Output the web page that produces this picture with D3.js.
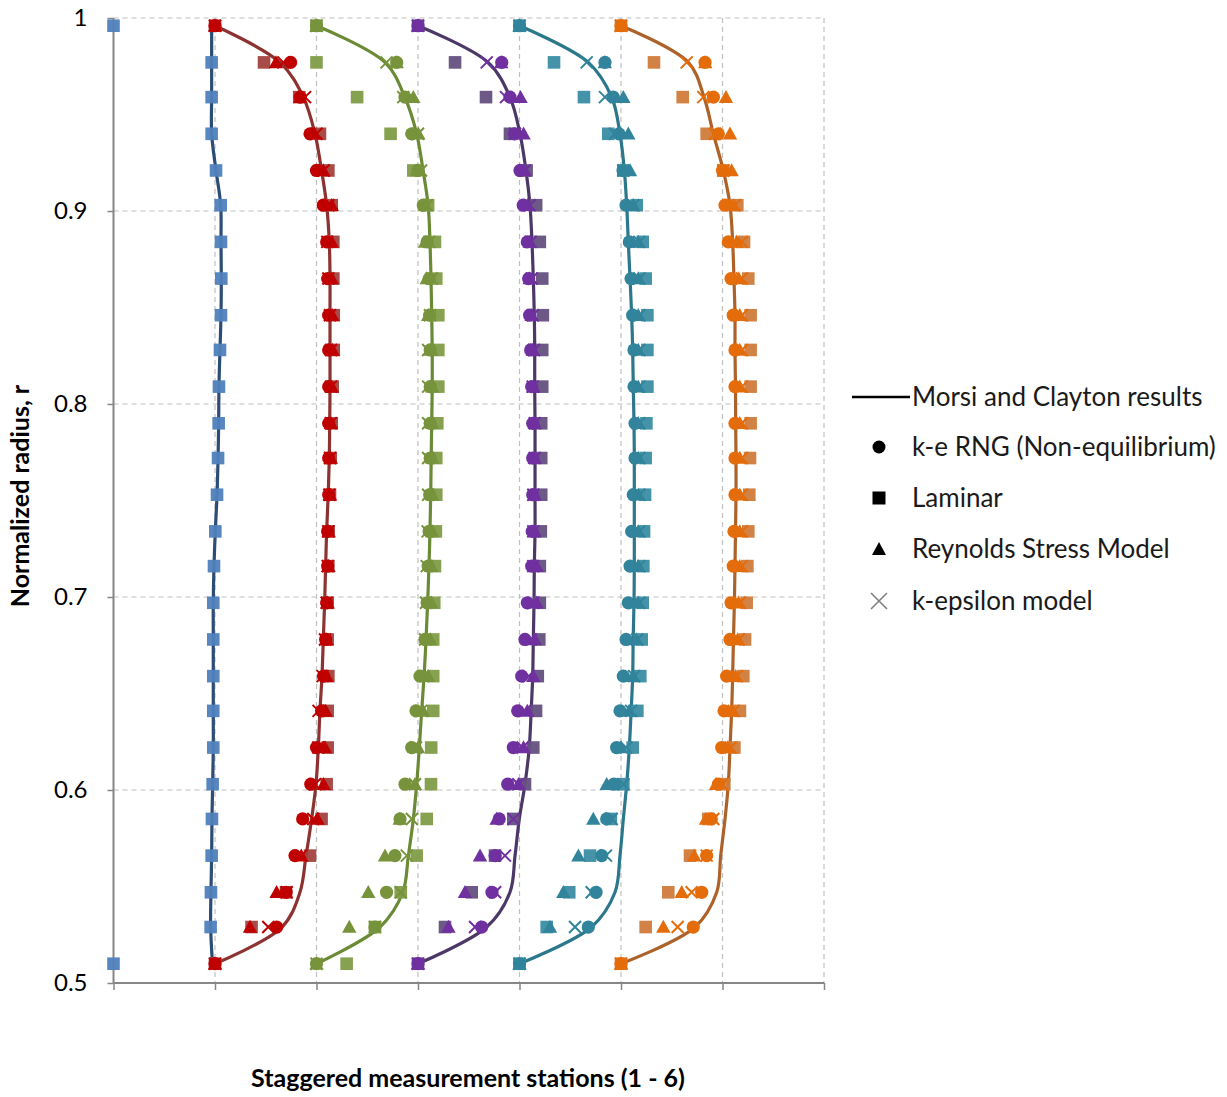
<!DOCTYPE html>
<html>
<head>
<meta charset="utf-8">
<script src="https://cdn.jsdelivr.net/npm/d3@7"></script>
<style>
  html, body { margin: 0; padding: 0; background: #fff; }
  svg { display: block; font-family: Lato, "Open Sans", sans-serif; }
</style>
</head>
<body>
<svg id="chart" width="1227" height="1097"></svg>
<script>
// Normalized radius of each sampled row (wall at 0.51 to wall at 0.996)
const radius = [0.510, 0.529, 0.547, 0.566, 0.585, 0.603, 0.622, 0.641, 0.659, 0.678, 0.697, 0.716, 0.734,
  0.753, 0.772, 0.790, 0.809, 0.828, 0.846, 0.865, 0.884, 0.903, 0.921, 0.940, 0.959, 0.977, 0.996];

// Each station is shifted one unit to the right of the previous one
const stationOffsets = [0, 1, 2, 3, 4, 5];

// Morsi and Clayton results (line), one array per station
const morsi1 = [0.975, 0.957, 0.960, 0.967, 0.970, 0.977, 0.983, 0.983, 0.983, 0.983, 0.983, 0.990, 1.003, 1.020, 1.030, 1.036, 1.039, 1.049, 1.059, 1.062, 1.059, 1.056, 1.010, 0.967, 0.967, 0.967, 0.967];
const morsi2 = [0, 0.66, 0.837, 0.897, 0.952, 0.995, 1.018, 1.034, 1.054, 1.067, 1.080, 1.090, 1.100, 1.115, 1.126, 1.130, 1.133, 1.133, 1.133, 1.133, 1.126, 1.100, 1.050, 0.985, 0.870, 0.640, 0];
const morsi3 = [0, 0.626, 0.850, 0.905, 0.954, 0.987, 1.013, 1.036, 1.060, 1.079, 1.095, 1.108, 1.118, 1.125, 1.130, 1.135, 1.140, 1.140, 1.135, 1.128, 1.118, 1.100, 1.050, 0.987, 0.870, 0.675, 0];
const morsi4 = [0, 0.677, 0.906, 0.956, 0.998, 1.054, 1.096, 1.115, 1.130, 1.136, 1.143, 1.146, 1.153, 1.153, 1.153, 1.153, 1.150, 1.150, 1.146, 1.136, 1.123, 1.103, 1.064, 1.005, 0.906, 0.690, 0];
const morsi5 = [0, 0.710, 0.941, 0.990, 1.023, 1.056, 1.082, 1.100, 1.115, 1.120, 1.128, 1.131, 1.131, 1.131, 1.131, 1.128, 1.121, 1.115, 1.105, 1.089, 1.072, 1.056, 1.033, 0.990, 0.908, 0.678, 0];
const morsi6 = [0, 0.730, 0.943, 0.982, 1.025, 1.057, 1.074, 1.090, 1.100, 1.108, 1.117, 1.123, 1.128, 1.133, 1.133, 1.130, 1.128, 1.123, 1.123, 1.113, 1.100, 1.074, 1.008, 0.910, 0.818, 0.663, 0];

// k-e RNG (Non-equilibrium)
const rng2 = [0, 0.607, 0.700, 0.788, 0.864, 0.944, 1.000, 1.050, 1.070, 1.090, 1.100, 1.110, 1.110, 1.120, 1.120, 1.120, 1.120, 1.120, 1.120, 1.110, 1.100, 1.067, 1.000, 0.936, 0.840, 0.745, 0];
const rng3 = [0, 0.576, 0.690, 0.773, 0.823, 0.872, 0.938, 0.980, 1.020, 1.069, 1.090, 1.100, 1.110, 1.115, 1.120, 1.120, 1.120, 1.120, 1.115, 1.110, 1.090, 1.053, 1.000, 0.938, 0.872, 0.790, 0];
const rng4 = [0, 0.627, 0.729, 0.760, 0.800, 0.884, 0.939, 0.982, 1.022, 1.054, 1.077, 1.120, 1.125, 1.130, 1.130, 1.130, 1.120, 1.110, 1.100, 1.090, 1.077, 1.037, 1.005, 0.950, 0.906, 0.825, 0];
const rng5 = [0, 0.678, 0.754, 0.810, 0.859, 0.930, 0.957, 0.990, 1.023, 1.050, 1.072, 1.089, 1.105, 1.121, 1.138, 1.138, 1.128, 1.128, 1.115, 1.099, 1.082, 1.050, 1.020, 0.980, 0.924, 0.842, 0];
const rng6 = [0, 0.712, 0.795, 0.844, 0.890, 0.960, 0.992, 1.015, 1.041, 1.074, 1.084, 1.106, 1.113, 1.123, 1.123, 1.123, 1.123, 1.123, 1.106, 1.084, 1.057, 1.025, 1.000, 0.959, 0.910, 0.828, 0];

// Laminar
const lam1 = [0, 0.957, 0.960, 0.967, 0.970, 0.977, 0.983, 0.983, 0.983, 0.983, 0.983, 0.990, 1.003, 1.020, 1.030, 1.036, 1.039, 1.049, 1.059, 1.062, 1.059, 1.056, 1.010, 0.967, 0.967, 0.967, 0];
const lam2 = [0, 0.360, 0.700, 0.936, 1.050, 1.100, 1.110, 1.110, 1.117, 1.110, 1.110, 1.117, 1.120, 1.133, 1.140, 1.150, 1.160, 1.170, 1.170, 1.166, 1.166, 1.150, 1.117, 1.034, 0.830, 0.483, 0];
const lam3 = [0.297, 0.576, 0.830, 0.987, 1.086, 1.128, 1.130, 1.150, 1.150, 1.150, 1.160, 1.167, 1.176, 1.180, 1.180, 1.190, 1.200, 1.200, 1.200, 1.180, 1.167, 1.100, 0.954, 0.730, 0.400, 0, 0];
const lam4 = [0, 0.266, 0.529, 0.759, 0.939, 1.054, 1.136, 1.163, 1.180, 1.195, 1.200, 1.200, 1.210, 1.214, 1.214, 1.214, 1.224, 1.224, 1.230, 1.224, 1.200, 1.164, 1.070, 0.906, 0.670, 0.365, 0];
const lam5 = [0, 0.268, 0.490, 0.695, 0.900, 1.023, 1.115, 1.161, 1.190, 1.204, 1.214, 1.220, 1.227, 1.237, 1.243, 1.250, 1.260, 1.260, 1.260, 1.243, 1.214, 1.155, 1.023, 0.875, 0.635, 0.340, 0];
const lam6 = [0, 0.243, 0.466, 0.680, 0.860, 1.018, 1.117, 1.172, 1.205, 1.222, 1.238, 1.245, 1.254, 1.264, 1.271, 1.277, 1.277, 1.277, 1.277, 1.254, 1.212, 1.146, 1.008, 0.844, 0.608, 0.325, 0];

// Reynolds Stress Model
const rsm2 = [0, 0.345, 0.607, 0.850, 1.010, 1.070, 1.084, 1.090, 1.100, 1.100, 1.110, 1.117, 1.120, 1.133, 1.140, 1.143, 1.150, 1.160, 1.156, 1.150, 1.150, 1.150, 1.067, 0.980, 0.840, 0.600, 0];
const rsm3 = [0, 0.323, 0.510, 0.675, 0.820, 0.970, 1.000, 1.050, 1.100, 1.120, 1.130, 1.130, 1.140, 1.140, 1.140, 1.140, 1.140, 1.130, 1.100, 1.086, 1.070, 1.070, 0.990, 1.003, 0.954, 0.790, 0];
const rsm4 = [0, 0.300, 0.463, 0.611, 0.775, 0.990, 1.040, 1.077, 1.136, 1.150, 1.169, 1.169, 1.150, 1.150, 1.150, 1.150, 1.136, 1.130, 1.120, 1.100, 1.100, 1.080, 1.050, 1.040, 1.010, 0.820, 0];
const rsm5 = [0, 0.300, 0.432, 0.580, 0.727, 0.859, 1.000, 1.080, 1.120, 1.150, 1.170, 1.170, 1.170, 1.170, 1.170, 1.170, 1.170, 1.170, 1.170, 1.170, 1.170, 1.120, 1.089, 1.072, 1.023, 0.840, 0];
const rsm6 = [0, 0.417, 0.598, 0.722, 0.837, 0.936, 1.050, 1.100, 1.130, 1.150, 1.160, 1.170, 1.170, 1.170, 1.170, 1.170, 1.170, 1.170, 1.170, 1.160, 1.140, 1.110, 1.090, 1.074, 1.034, 0.830, 0];

// k-epsilon model
const keps2 = [0, 0.525, 0.706, 0.850, 0.968, 0.985, 1.018, 1.020, 1.060, 1.084, 1.100, 1.110, 1.117, 1.127, 1.133, 1.140, 1.143, 1.143, 1.133, 1.117, 1.107, 1.117, 1.070, 1.000, 0.887, 0.673, 0];
const keps3 = [0, 0.576, 0.830, 0.890, 0.940, 0.970, 0.980, 1.030, 1.050, 1.070, 1.079, 1.086, 1.095, 1.100, 1.100, 1.100, 1.100, 1.100, 1.118, 1.135, 1.112, 1.086, 1.030, 1.000, 0.855, 0.690, 0];
const keps4 = [0, 0.562, 0.760, 0.857, 0.940, 0.988, 1.030, 1.054, 1.090, 1.110, 1.136, 1.136, 1.136, 1.136, 1.150, 1.150, 1.130, 1.143, 1.130, 1.120, 1.110, 1.100, 1.050, 0.956, 0.867, 0.677, 0];
const keps5 = [0, 0.547, 0.711, 0.852, 0.908, 1.023, 1.050, 1.100, 1.130, 1.160, 1.180, 1.180, 1.180, 1.180, 1.180, 1.180, 1.180, 1.180, 1.180, 1.180, 1.180, 1.120, 1.023, 0.941, 0.842, 0.662, 0];
const keps6 = [0, 0.558, 0.696, 0.844, 0.910, 0.992, 1.080, 1.110, 1.140, 1.160, 1.170, 1.190, 1.190, 1.190, 1.190, 1.190, 1.190, 1.190, 1.190, 1.190, 1.190, 1.120, 1.008, 0.926, 0.811, 0.647, 0];

// Tick values and labels
const yTicks = [0.5, 0.6, 0.7, 0.8, 0.9, 1.0];
const yTickLabels = ["0.5", "0.6", "0.7", "0.8", "0.9", "1"];
const xTicks = [0, 1, 2, 3, 4, 5, 6, 7];
const legendLabels = ["Morsi and Clayton results", "k-e RNG (Non-equilibrium)", "Laminar", "Reynolds Stress Model", "k-epsilon model"];

// Station colours
const lineColors = ["#2c4d75", "#8c3331", "#6b8a35", "#4c3866", "#2b778b", "#ad6229"];
const markColors = ["#4f81bd", "#c00000", "#77933c", "#7030a0", "#31849b", "#e46c0a"];
const squareColors = ["#4f81bd", "#a3423f", "#7f9d47", "#65507f", "#3a8da3", "#d07b3b"];

const stations = [
  { morsi: morsi1, lam: lam1 },
  { morsi: morsi2, rng: rng2, lam: lam2, rsm: rsm2, keps: keps2 },
  { morsi: morsi3, rng: rng3, lam: lam3, rsm: rsm3, keps: keps3 },
  { morsi: morsi4, rng: rng4, lam: lam4, rsm: rsm4, keps: keps4 },
  { morsi: morsi5, rng: rng5, lam: lam5, rsm: rsm5, keps: keps5 },
  { morsi: morsi6, rng: rng6, lam: lam6, rsm: rsm6, keps: keps6 }
];

const svg = d3.select("#chart");
const x = d3.scaleLinear().domain([0, 7]).range([113.5, 824]);
const y = d3.scaleLinear().domain([0.5, 1]).range([983, 18]);

// Dashed grid
const grid = svg.append("g").attr("stroke", "#c0c0c0").attr("stroke-width", 1.2).attr("stroke-dasharray", "5,4");
grid.selectAll("line.gx").data(xTicks.slice(1)).join("line")
  .attr("x1", d => x(d)).attr("x2", d => x(d)).attr("y1", y(1)).attr("y2", y(0.5));
grid.selectAll("line.gy").data(yTicks.slice(1)).join("line")
  .attr("x1", x(0)).attr("x2", x(7)).attr("y1", d => y(d)).attr("y2", d => y(d));

// Axes
const axisColor = "#868686";
const xAxis = svg.append("g").attr("transform", `translate(0,${y(0.5)})`)
  .call(d3.axisBottom(x).tickValues(xTicks).tickSize(7).tickFormat(""));
xAxis.select(".domain").attr("stroke", axisColor).attr("stroke-width", 2).attr("d", `M${x(0)},0H${x(7)}`);
xAxis.selectAll(".tick line").attr("stroke", axisColor).attr("stroke-width", 1.5);

const yAxis = svg.append("g").attr("transform", `translate(${x(0)},0)`)
  .call(d3.axisLeft(y).tickValues(yTicks).tickSize(6).tickPadding(20).tickFormat((d, i) => yTickLabels[i]));
yAxis.select(".domain").attr("stroke", axisColor).attr("stroke-width", 2).attr("d", `M0,${y(0.5)}V${y(1)}`);
yAxis.selectAll(".tick line").attr("stroke", axisColor).attr("stroke-width", 1.5);
yAxis.selectAll(".tick text").attr("font-size", 24).attr("fill", "#000").style("font-family", "Lato, sans-serif");

// Axis titles
svg.append("text").attr("x", 468).attr("y", 1087).attr("text-anchor", "middle")
  .attr("font-size", 25).attr("font-weight", "bold").text("Staggered measurement stations (1 - 6)");
svg.append("text").attr("transform", "translate(29,496) rotate(-90)").attr("text-anchor", "middle")
  .attr("font-size", 25).attr("font-weight", "bold").text("Normalized radius, r");

// Profile lines
const lineGen = d3.line().curve(d3.curveCatmullRom.alpha(0.5));
const plot = svg.append("g");
stations.forEach((s, i) => {
  const pts = s.morsi.map((v, k) => [x(stationOffsets[i] + v), y(radius[k])]);
  plot.append("path").attr("d", lineGen(pts)).attr("fill", "none")
    .attr("stroke", lineColors[i]).attr("stroke-width", 3.2).attr("stroke-linejoin", "round");
});

// Marker shapes
const sq = 6.3, cr = 6.6, tr = 7.2, xs = 6;
function drawSquares(g, vals, off, color) {
  g.selectAll(null).data(vals).join("rect")
    .attr("x", (v) => x(off + v) - sq).attr("y", (v, k) => y(radius[k]) - sq)
    .attr("width", sq * 2).attr("height", sq * 2).attr("fill", color).attr("fill-opacity", 0.95);
}
function drawCircles(g, vals, off, color) {
  g.selectAll(null).data(vals).join("circle")
    .attr("cx", v => x(off + v)).attr("cy", (v, k) => y(radius[k])).attr("r", cr).attr("fill", color);
}
function drawTriangles(g, vals, off, color) {
  g.selectAll(null).data(vals).join("path")
    .attr("d", (v, k) => {
      const cx = x(off + v), cy = y(radius[k]);
      return `M${cx},${cy - tr}L${cx + tr},${cy + tr * 0.8}L${cx - tr},${cy + tr * 0.8}Z`;
    }).attr("fill", color);
}
function drawCrosses(g, vals, off, color, w) {
  g.selectAll(null).data(vals).join("path")
    .attr("d", (v, k) => {
      const cx = x(off + v), cy = y(radius[k]);
      return `M${cx - xs},${cy - xs}L${cx + xs},${cy + xs}M${cx - xs},${cy + xs}L${cx + xs},${cy - xs}`;
    }).attr("stroke", color).attr("stroke-width", w || 2).attr("fill", "none");
}

stations.forEach((s, i) => {
  const g = plot.append("g");
  const off = stationOffsets[i];
  if (s.lam) drawSquares(g, s.lam, off, squareColors[i]);
  if (s.rng) drawCircles(g, s.rng, off, markColors[i]);
  if (s.rsm) drawTriangles(g, s.rsm, off, markColors[i]);
  if (s.keps) drawCrosses(g, s.keps, off, markColors[i]);
});

// Legend
const leg = svg.append("g");
const legY = [397, 447, 498, 549, 601];
const legMarkX = 879;
leg.append("line").attr("x1", 852).attr("x2", 910).attr("y1", legY[0]).attr("y2", legY[0])
  .attr("stroke", "#000").attr("stroke-width", 2.5);
leg.append("circle").attr("cx", legMarkX).attr("cy", legY[1]).attr("r", 6.5).attr("fill", "#000");
leg.append("rect").attr("x", legMarkX - 6.5).attr("y", legY[2] - 6.5).attr("width", 13).attr("height", 13).attr("fill", "#000");
leg.append("path").attr("d", `M${legMarkX},${legY[3] - 7}L${legMarkX + 7},${legY[3] + 6}L${legMarkX - 7},${legY[3] + 6}Z`).attr("fill", "#000");
leg.append("path").attr("d", `M${legMarkX - 8},${legY[4] - 8}L${legMarkX + 8},${legY[4] + 8}M${legMarkX - 8},${legY[4] + 8}L${legMarkX + 8},${legY[4] - 8}`)
  .attr("stroke", "#7f7f7f").attr("stroke-width", 1.6);
leg.selectAll("text").data(legendLabels).join("text")
  .attr("x", 912).attr("y", (d, i) => legY[i]).attr("dy", "0.35em")
  .attr("font-size", 26).attr("fill", "#1a1a1a").text(d => d);
</script>
</body>
</html>
